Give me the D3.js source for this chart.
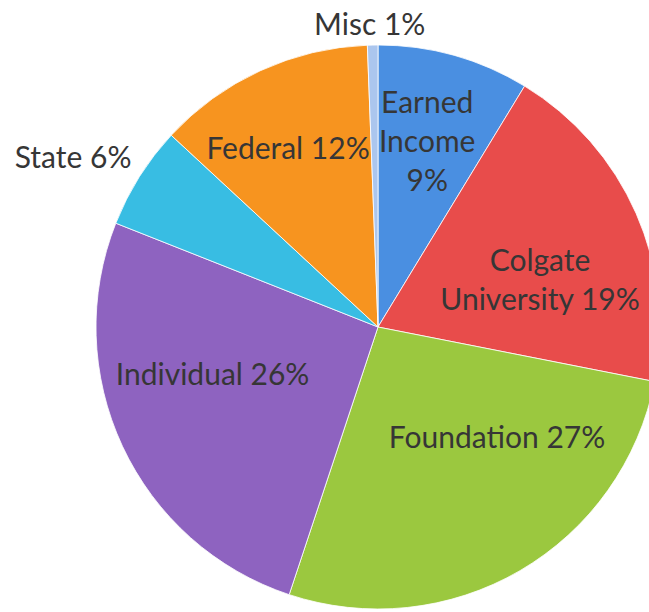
<!DOCTYPE html>
<html>
<head>
<meta charset="utf-8" />
<script src="https://d3js.org/d3.v7.min.js"></script>
<style>
  body { margin: 0; background: #fff; }
  svg { display: block; }
  .lbl { font-family: Lato, "Open Sans", sans-serif; font-size: 30px; fill: #363636; }
</style>
</head>
<body>
<div id="visu"></div>
<script>
// share of funding (labels show the rounded percent)
const categories = ["Earned Income", "Colgate University", "Foundation", "Individual", "State", "Federal", "Misc"];
const values = [8.7, 19.4, 27.0, 25.9, 5.9, 12.5, 0.6];
const labelLines = [
  ["Earned", "Income", "9%"],
  ["Colgate", "University 19%"],
  ["Foundation 27%"],
  ["Individual 26%"],
  ["State 6%"],
  ["Federal 12%"],
  ["Misc 1%"]
];
const colors = ["#4a8fe1", "#e84c4b", "#9bc83f", "#8e63c0", "#38bde3", "#f7941f", "#abc6ee"];

const width = 649, height = 612;
const cx = 378, cy = 327, radius = 282;

// extra shift from the slice centroid, in px, to land where the labels sit
const nudge = {
  "Earned Income": [2, -17],
  "Colgate University": [2, 23],
  "Foundation": [31, -41],
  "Individual": [-7, -26],
  "State": [-157, -76],
  "Federal": [-17, -20],
  "Misc": [-5, -128]
};

const data = categories.map((c, i) => ({ name: c, value: values[i], lines: labelLines[i] }));
const color = d3.scaleOrdinal(colors).domain(categories);

const svg = d3.select("#visu").append("svg")
  .attr("width", width)
  .attr("height", height);

const g = svg.append("g").attr("transform", `translate(${cx},${cy})`);

const pie = d3.pie().sort(null).value(d => d.value);
const arc = d3.arc().innerRadius(0).outerRadius(radius);
const labelArc = d3.arc().innerRadius(radius * 0.62).outerRadius(radius * 0.62);

const arcs = pie(data);

g.selectAll("path")
  .data(arcs)
  .enter().append("path")
  .attr("d", arc)
  .style("fill", d => color(d.data.name))
  .style("stroke", "#fff")
  .style("stroke-width", 0.8);

const lineH = 39;
const labels = g.selectAll("text")
  .data(arcs)
  .enter().append("text")
  .attr("class", "lbl")
  .attr("text-anchor", "middle")
  .attr("transform", d => {
    const [x, y] = labelArc.centroid(d);
    const n = nudge[d.data.name];
    return `translate(${x + n[0]},${y + n[1]})`;
  });

labels.selectAll("tspan")
  .data(d => d.data.lines.map((t, i) => ({ t, i, n: d.data.lines.length })))
  .enter().append("tspan")
  .attr("x", 0)
  .attr("y", d => (d.i - (d.n - 1) / 2) * lineH)
  .attr("dy", "0.35em")
  .text(d => d.t);
</script>
</body>
</html>
